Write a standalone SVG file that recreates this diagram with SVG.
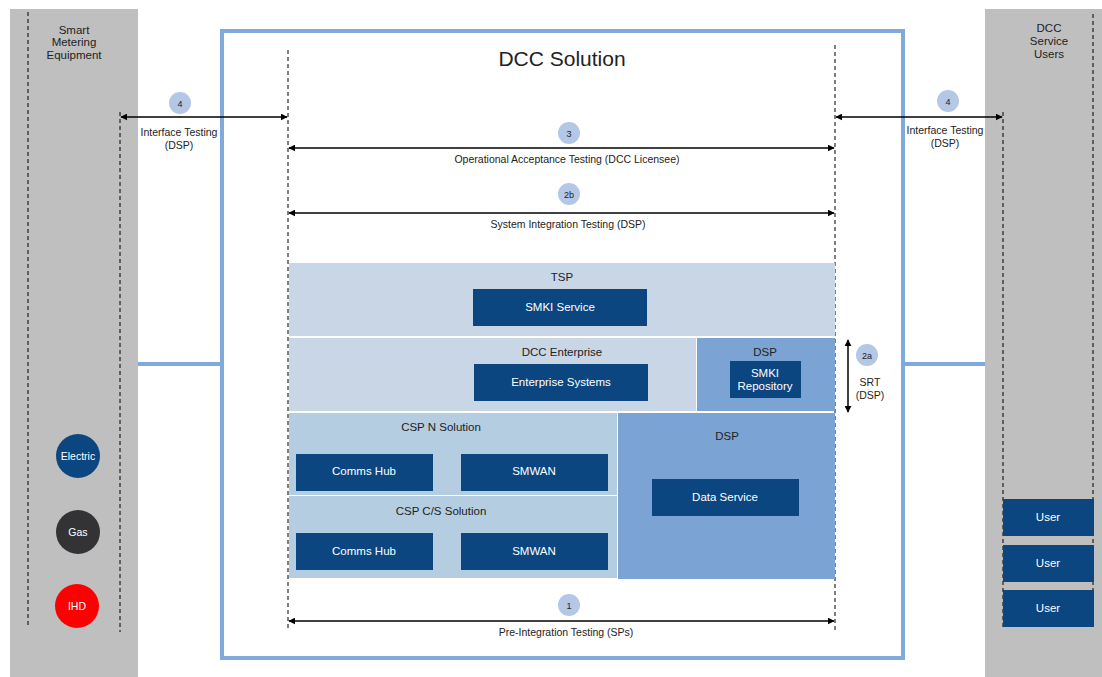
<svg xmlns="http://www.w3.org/2000/svg" width="1102" height="677" viewBox="0 0 1102 677">
<defs>
<style>
text{font-family:"Liberation Sans",Arial,sans-serif;fill:#222;text-anchor:middle}
.s{font-size:10.5px}
.m{font-size:11.5px}
.w{fill:#fff;font-size:11.5px}
.box{fill:#0B4680}
.dash{stroke:#000;stroke-width:1;stroke-dasharray:4,3;fill:none}
.arr{stroke:#000;stroke-width:1.5;fill:none;marker-start:url(#a);marker-end:url(#a)}
.badge{fill:#B4C7E7}
.link{stroke:#7FAADB;stroke-width:4;fill:none}
</style>
<marker id="a" viewBox="0 0 10 10" refX="9" refY="5" markerWidth="7" markerHeight="7" orient="auto-start-reverse" markerUnits="userSpaceOnUse"><path d="M0,0L10,5L0,10z" fill="#000"/></marker>
</defs>
<rect width="1102" height="677" fill="#fff"/>
<g id="smart-metering">
<rect x="10" y="9" width="128" height="668" fill="#BFBFBF"/>
<line x1="28" y1="12" x2="28" y2="627" class="dash"/>
<line x1="120" y1="112" x2="120" y2="632" class="dash"/>
<text class="m" x="74" y="34">Smart</text>
<text class="m" x="74" y="46">Metering</text>
<text class="m" x="74" y="59">Equipment</text>
<circle cx="78" cy="456" r="22" fill="#0B4680"/>
<text x="78" y="460" class="w" style="font-size:10.5px">Electric</text>
<circle cx="78" cy="532" r="22" fill="#333335"/>
<text x="78" y="536" class="w" style="font-size:10.5px">Gas</text>
<circle cx="77" cy="606" r="22" fill="#FF0000"/>
<text x="77" y="610" class="w" style="font-size:10.5px">IHD</text>
</g>
<g id="service-users">
<rect x="985" y="9" width="117" height="668" fill="#BFBFBF"/>
<line x1="1003" y1="112" x2="1003" y2="627" class="dash"/>
<line x1="1093" y1="14" x2="1093" y2="627" class="dash"/>
<text class="m" x="1049" y="32">DCC</text>
<text class="m" x="1049" y="45">Service</text>
<text class="m" x="1049" y="58">Users</text>
<rect x="1003" y="499" width="91" height="37" class="box"/>
<text x="1048" y="521" class="w">User</text>
<rect x="1003" y="545" width="91" height="37" class="box"/>
<text x="1048" y="567" class="w">User</text>
<rect x="1003" y="590" width="91" height="37" class="box"/>
<text x="1048" y="612" class="w">User</text>
</g>
<g id="dcc-solution">
<rect x="222" y="31" width="681" height="627" fill="none" stroke="#7FAADB" stroke-width="4"/>
<text x="562" y="66" style="font-size:21px">DCC Solution</text>
<line x1="288" y1="50" x2="288" y2="631" class="dash"/>
<line x1="835" y1="45" x2="835" y2="631" class="dash"/>
</g>
<g id="tsp">
<rect x="289" y="263" width="546" height="73" fill="#C9D6E5"/>
<text class="m" x="562" y="281">TSP</text>
<rect x="473" y="289" width="174" height="37" class="box"/>
<text x="560" y="311" class="w">SMKI Service</text>
</g>
<g id="dcc-enterprise">
<rect x="289" y="338" width="407" height="73" fill="#C9D6E5"/>
<text class="m" x="562" y="356">DCC Enterprise</text>
<rect x="474" y="364" width="174" height="37" class="box"/>
<text x="561" y="386" class="w">Enterprise Systems</text>
</g>
<g id="dsp-small">
<rect x="697" y="338" width="138" height="73" fill="#7BA4D4"/>
<text class="m" x="765" y="356">DSP</text>
<rect x="730" y="361" width="71" height="37" class="box"/>
<text x="765" y="377" class="w">SMKI</text>
<text x="765" y="390" class="w">Repository</text>
</g>
<g id="csp-n">
<rect x="289" y="413" width="328" height="82" fill="#B4CDE0"/>
<text class="m" x="441" y="431">CSP N Solution</text>
<rect x="296" y="454" width="137" height="37" class="box"/>
<text x="364" y="475" class="w">Comms Hub</text>
<rect x="461" y="454" width="147" height="37" class="box"/>
<text x="534" y="475" class="w">SMWAN</text>
</g>
<g id="csp-cs">
<rect x="289" y="496" width="328" height="82" fill="#B4CDE0"/>
<text class="m" x="441" y="515">CSP C/S Solution</text>
<rect x="296" y="533" width="137" height="37" class="box"/>
<text x="364" y="555" class="w">Comms Hub</text>
<rect x="461" y="533" width="147" height="37" class="box"/>
<text x="534" y="555" class="w">SMWAN</text>
</g>
<g id="dsp-large">
<rect x="618" y="413" width="217" height="166" fill="#7BA4D4"/>
<text class="m" x="727" y="440">DSP</text>
<rect x="652" y="479" width="147" height="37" class="box"/>
<text x="725" y="501" class="w">Data Service</text>
</g>
<g id="connectors">
<line x1="138" y1="364" x2="220" y2="364" class="link"/>
<line x1="905" y1="364" x2="985" y2="364" class="link"/>
<line x1="121" y1="117" x2="287" y2="117" class="arr"/>
<line x1="836" y1="117" x2="1002" y2="117" class="arr"/>
<line x1="289" y1="148" x2="834" y2="148" class="arr"/>
<line x1="289" y1="213" x2="834" y2="213" class="arr"/>
<line x1="289" y1="621" x2="834" y2="621" class="arr"/>
<line x1="848" y1="340" x2="848" y2="412" class="arr"/>
</g>
<g id="labels">
<circle cx="180" cy="103" r="11" class="badge"/><text class="s" x="180" y="107" style="font-size:9px">4</text>
<text class="s" x="179" y="136">Interface Testing</text>
<text class="s" x="179" y="149">(DSP)</text>
<circle cx="948" cy="101" r="11" class="badge"/><text class="s" x="948" y="105" style="font-size:9px">4</text>
<text class="s" x="945" y="134">Interface Testing</text>
<text class="s" x="945" y="147">(DSP)</text>
<circle cx="569" cy="133" r="11" class="badge"/><text class="s" x="569" y="137" style="font-size:9px">3</text>
<text class="s" x="567" y="163">Operational Acceptance Testing (DCC Licensee)</text>
<circle cx="569" cy="194" r="11" class="badge"/><text class="s" x="569" y="198" style="font-size:9px">2b</text>
<text class="s" x="568" y="228">System Integration Testing (DSP)</text>
<circle cx="569" cy="605" r="11" class="badge"/><text class="s" x="569" y="609" style="font-size:9px">1</text>
<text class="s" x="566" y="636">Pre-Integration Testing (SPs)</text>
<circle cx="867" cy="355" r="11" class="badge"/><text class="s" x="867" y="359" style="font-size:9px">2a</text>
<text class="s" x="870" y="386">SRT</text>
<text class="s" x="870" y="399">(DSP)</text>
</g>
</svg>
